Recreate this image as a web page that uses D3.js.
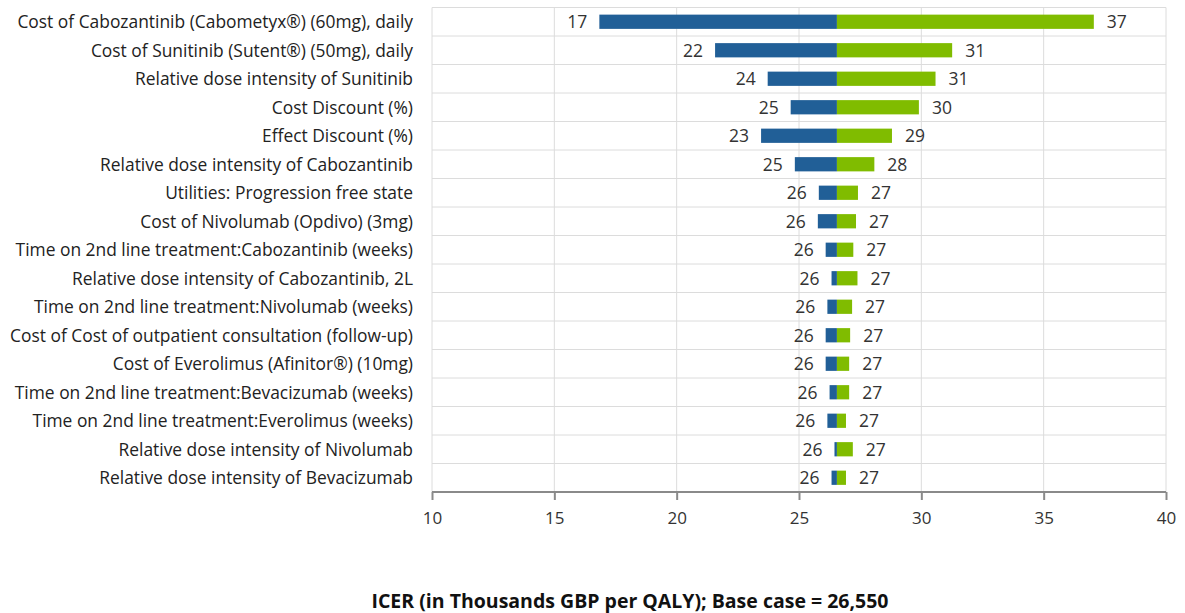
<!DOCTYPE html>
<html>
<head>
<meta charset="utf-8">
<script src="https://cdn.jsdelivr.net/npm/d3@7"></script>
<style>
  body { margin: 0; background: #fff; }
  text { font-family: "Open Sans", "Noto Sans", sans-serif; }
</style>
</head>
<body>
<script>
var parameters = [
  "Cost of Cabozantinib (Cabometyx\u00AE) (60mg), daily",
  "Cost of Sunitinib (Sutent\u00AE) (50mg), daily",
  "Relative dose intensity of Sunitinib",
  "Cost Discount (%)",
  "Effect Discount (%)",
  "Relative dose intensity of Cabozantinib",
  "Utilities: Progression free state",
  "Cost of Nivolumab (Opdivo) (3mg)",
  "Time on 2nd line treatment:Cabozantinib (weeks)",
  "Relative dose intensity of Cabozantinib, 2L",
  "Time on 2nd line treatment:Nivolumab (weeks)",
  "Cost of Cost of outpatient consultation (follow-up)",
  "Cost of Everolimus (Afinitor\u00AE) (10mg)",
  "Time on 2nd line treatment:Bevacizumab (weeks)",
  "Time on 2nd line treatment:Everolimus (weeks)",
  "Relative dose intensity of Nivolumab",
  "Relative dose intensity of Bevacizumab"
];
var lowValues  = [16.84, 21.57, 23.72, 24.66, 23.45, 24.83, 25.81, 25.77, 26.09, 26.33, 26.16, 26.09, 26.09, 26.25, 26.16, 26.45, 26.33];
var highValues = [37.05, 31.26, 30.58, 29.90, 28.80, 28.08, 27.41, 27.33, 27.22, 27.39, 27.17, 27.09, 27.05, 27.05, 26.92, 27.2, 26.92];
var baseCase = 26.55;
var xTicks = [10, 15, 20, 25, 30, 35, 40];
var axisTitle = "ICER (in Thousands GBP per QALY); Base case = 26,550";

var width = 1185, height = 613;
var margin = { top: 7.5, left: 432, right: 19, bottom: 121 };

var svg = d3.select("body").append("svg")
    .attr("width", width)
    .attr("height", height);

var x = d3.scaleLinear()
    .domain([10, 40])
    .range([margin.left, width - margin.right]);

var y = d3.scaleBand()
    .domain(parameters)
    .range([margin.top, height - margin.bottom])
    .paddingInner(0.5)
    .paddingOuter(0.25);

var rows = d3.scaleBand()
    .domain(parameters)
    .range([margin.top, height - margin.bottom]);

var rowsData = parameters.map(function (p, i) {
    return { name: p, low: lowValues[i], high: highValues[i] };
});

// grid
var grid = svg.append("g").attr("class", "grid");
grid.selectAll("line.v")
    .data(xTicks).enter()
    .append("line")
    .attr("x1", function (d) { return x(d); })
    .attr("x2", function (d) { return x(d); })
    .attr("y1", margin.top)
    .attr("y2", height - margin.bottom)
    .style("stroke", "#dcdcdc")
    .style("stroke-width", 1);

grid.selectAll("line.h")
    .data(parameters).enter()
    .append("line")
    .attr("x1", x(10))
    .attr("x2", x(40))
    .attr("y1", function (d) { return rows(d); })
    .attr("y2", function (d) { return rows(d); })
    .style("stroke", "#dcdcdc")
    .style("stroke-width", 1);

// bars
var bars = svg.append("g").attr("class", "bars");
bars.selectAll("rect.low")
    .data(rowsData).enter()
    .append("rect")
    .attr("x", function (d) { return x(d.low); })
    .attr("y", function (d) { return y(d.name); })
    .attr("width", function (d) { return x(baseCase) - x(d.low); })
    .attr("height", y.bandwidth())
    .style("fill", "#215f97");

bars.selectAll("rect.high")
    .data(rowsData).enter()
    .append("rect")
    .attr("x", x(baseCase))
    .attr("y", function (d) { return y(d.name); })
    .attr("width", function (d) { return x(d.high) - x(baseCase); })
    .attr("height", y.bandwidth())
    .style("fill", "#80bc00");

// value labels
var fmt = d3.format(".0f");
var labels = svg.append("g").attr("class", "values")
    .style("font-size", "17.5px")
    .style("fill", "#333");
labels.selectAll("text.low")
    .data(rowsData).enter()
    .append("text")
    .attr("x", function (d) { return x(d.low) - 12; })
    .attr("y", function (d) { return y(d.name) + y.bandwidth() / 2; })
    .attr("dy", "0.36em")
    .attr("text-anchor", "end")
    .text(function (d) { return fmt(d.low); });
labels.selectAll("text.high")
    .data(rowsData).enter()
    .append("text")
    .attr("x", function (d) { return x(d.high) + 13; })
    .attr("y", function (d) { return y(d.name) + y.bandwidth() / 2; })
    .attr("dy", "0.36em")
    .attr("text-anchor", "start")
    .text(function (d) { return fmt(d.high); });

// category labels
svg.append("g")
    .selectAll("text")
    .data(parameters).enter()
    .append("text")
    .attr("x", 413)
    .attr("y", function (d) { return rows(d) + rows.bandwidth() / 2; })
    .attr("dy", "0.36em")
    .attr("text-anchor", "end")
    .style("font-size", "17.4px")
    .style("fill", "#222")
    .text(function (d) { return d; });

// x axis
var xAxis = svg.append("g")
    .attr("transform", "translate(0," + (height - margin.bottom) + ")")
    .call(d3.axisBottom(x).tickValues(xTicks).tickSize(8).tickPadding(12));
xAxis.select(".domain").style("stroke", "#8a8a8a").style("stroke-width", 2)
    .attr("d", "M" + x(10) + ",0H" + x(40));
xAxis.selectAll(".tick line").style("stroke", "#8a8a8a").style("stroke-width", 2);
xAxis.selectAll(".tick text")
    .style("font-size", "17px")
    .style("fill", "#333")
    .style("font-family", "'Open Sans', sans-serif");

svg.append("text")
    .attr("x", 630)
    .attr("y", 601)
    .attr("dy", "0.36em")
    .attr("text-anchor", "middle")
    .style("font-size", "19.5px")
    .style("font-weight", "bold")
    .style("fill", "#111")
    .text(axisTitle);
</script>
</body>
</html>
